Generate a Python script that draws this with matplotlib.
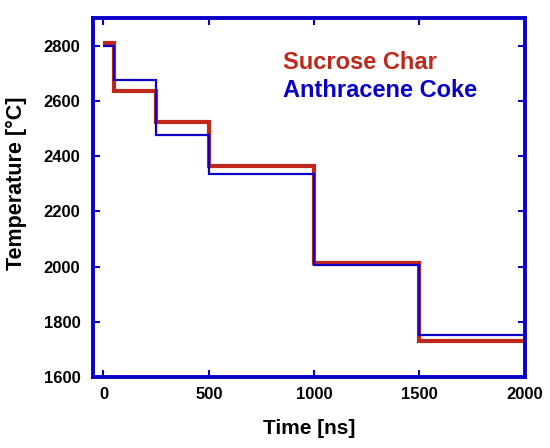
import matplotlib
matplotlib.use('Agg')
import matplotlib.pyplot as plt
import numpy as np

plt.rcParams.update({'font.family': 'Liberation Sans', 'font.weight': 'bold'})

# step edges (ns) and temperature levels (C)
t_edges = [0, 50, 250, 500, 1000, 1500, 2000]
sucrose_T = [2810, 2637, 2525, 2365, 2013, 1730]
anthracene_T = [2798, 2677, 2478, 2336, 2007, 1753]

red = '#c0281c'
blue = '#0a00c8'

fig = plt.figure(figsize=(5.5, 4.48), dpi=100)
ax = fig.add_axes([0.169, 0.158, 0.785, 0.802])

ax.stairs(sucrose_T, t_edges, color=red, lw=3.0, baseline=None)
ax.stairs(anthracene_T, t_edges, color=blue, lw=1.6, baseline=None)

ax.set_xlim(-50, 2000)
ax.set_ylim(1600, 2900)
ax.set_xticks([0, 500, 1000, 1500, 2000])
ax.set_yticks(np.arange(1600, 2801, 200))

for s in ax.spines.values():
    s.set_color(blue)
    s.set_linewidth(2.8)
ax.tick_params(direction='in', length=5, width=1.5, color=blue,
               top=True, right=True, labelsize=12)
ax.tick_params(axis='y', pad=9)
ax.tick_params(axis='x', pad=7)
for lab in ax.get_xticklabels() + ax.get_yticklabels():
    lab.set_fontweight('bold')

ax.set_xlabel('Time [ns]', fontsize=15, fontweight='bold')
ax.set_ylabel('Temperature [°C]', fontsize=15.5, fontweight='bold')
ax.xaxis.set_label_coords(0.5, -0.115)
ax.yaxis.set_label_coords(-0.152, 0.54)

ax.text(0.44, 0.875, 'Sucrose Char', transform=ax.transAxes, color=red,
        fontsize=17, fontweight='bold', va='center')
ax.text(0.44, 0.797, 'Anthracene Coke', transform=ax.transAxes, color=blue,
        fontsize=17, fontweight='bold', va='center')

fig.savefig('out.png', dpi=100)
